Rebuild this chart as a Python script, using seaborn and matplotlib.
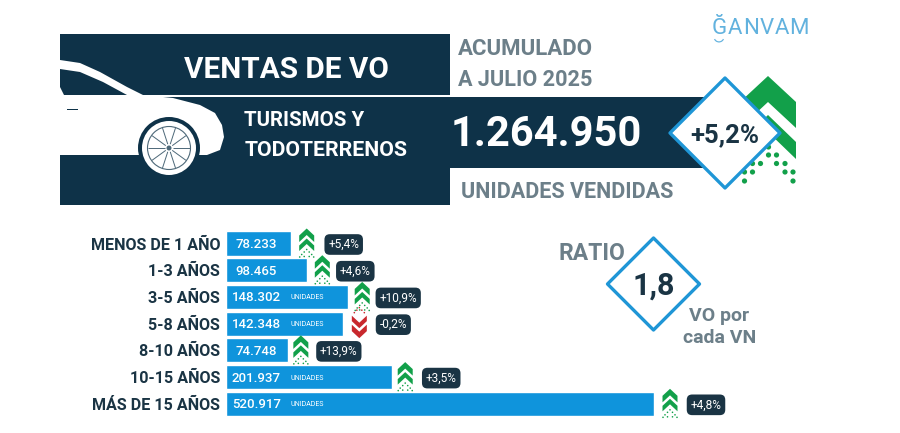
import numpy as np
import pandas as pd
import matplotlib
matplotlib.use("Agg")
import matplotlib.pyplot as plt
from matplotlib.patches import Polygon, Circle, Rectangle, Wedge
import seaborn as sns

categories = ["MENOS DE 1 AÑO", "1-3 AÑOS", "3-5 AÑOS", "5-8 AÑOS", "8-10 AÑOS", "10-15 AÑOS", "MÁS DE 15 AÑOS"]
ventas = [78233, 98465, 148302, 142348, 74748, 201937, 520917]
ventas_txt = ["78.233", "98.465", "148.302", "142.348", "74.748", "201.937", "520.917"]
variacion = [5.4, 4.6, 10.9, -0.2, 13.9, 3.5, 4.8]
variacion_txt = ["+5,4%", "+4,6%", "+10,9%", "-0,2%", "+13,9%", "+3,5%", "+4,8%"]
con_unidades = [False, False, True, True, False, True, True]
chip_offset_px = [53, 48, 50, 50, 51, 49, 52]
chev_offset_px = [16, 15, 14, 16, 13, 13, 16]

total_txt = "1.264.950"
total_var = "+5,2%"
ratio_txt = "1,8"

NAVY = "#0e3248"
BLUE = "#0f94dc"
EDGE = "#1f96d6"
GREY = "#6c7f89"
GREEN = "#12a04a"
RED = "#c8282d"
INK = "#1a3444"
LOGO = "#62b2de"

sns.set_theme(style="white")
plt.rcParams["font.family"] = ["Roboto", "DejaVu Sans"]

W, H = 900, 433
fig = plt.figure(figsize=(W / 100, H / 100), dpi=100, facecolor="white")


def pixel_axes(z):
    a = fig.add_axes([0, 0, 1, 1], zorder=z)
    a.set_xlim(0, W)
    a.set_ylim(H, 0)
    a.axis("off")
    a.patch.set_alpha(0)
    return a


bg = pixel_axes(0)
fg = pixel_axes(5)

# ---------- header panels ----------
bg.add_patch(Rectangle((60, 33.5), 390, 61.5, fc=NAVY, ec="none"))
bg.add_patch(Rectangle((60, 97), 390, 108, fc=NAVY, ec="none"))
bg.add_patch(Rectangle((450, 97), 255, 71, fc=NAVY, ec="none"))

# big green chevrons behind the diamond
def chevron(ax, cx, top, half, arm, thick, color, up=True, z=2):
    if up:
        pts = [(cx, top), (cx + half, top + arm), (cx + half, top + arm + thick),
               (cx, top + thick), (cx - half, top + arm + thick), (cx - half, top + arm)]
    else:
        pts = [(cx, top + arm + thick), (cx + half, top + thick), (cx + half, top),
               (cx, top + arm), (cx - half, top), (cx - half, top + thick)]
    ax.add_patch(Polygon(pts, closed=True, fc=color, ec="none", zorder=z))


chevron(bg, 768, 76, 28, 26, 26, GREEN)
chevron(bg, 768, 115, 28, 27, 17, GREEN)
dot_cols = [744.5, 752.5, 760.5, 768.5, 776.5, 785, 793]
dot_rows = {147: [3], 155: [3, 4], 163.5: [2, 1, 4, 5], 172: [1, 0, 5, 6], 181: [0, 6]}
for yy, idx in dot_rows.items():
    for i in idx:
        bg.add_patch(Circle((dot_cols[i], yy), 2.6, fc=GREEN, ec="none", zorder=2))

# ---------- car ----------
car = [(60, 60), (80, 63), (100, 72), (127, 87), (143, 95), (173, 98), (200, 105), (215, 113),
       (222, 125), (224, 137), (220, 150), (207, 155), (130, 155), (60, 155)]
fg.add_patch(Polygon(car, closed=True, fc="white", ec="none", zorder=1))
fg.add_patch(Polygon([(60, 69), (80, 72), (103, 82), (127, 95), (64, 95), (60, 87)],
                     closed=True, fc=NAVY, ec="none", zorder=2))
fg.add_patch(Rectangle((67, 108.5), 11, 1.6, fc=NAVY, ec="none", zorder=2))
wx, wy = 169, 148
fg.add_patch(Circle((wx, wy), 31, fc=NAVY, ec="none", zorder=2))
fg.add_patch(Rectangle((wx - 40, 155), 80, 30, fc=NAVY, ec="none", zorder=2))
fg.add_patch(Circle((wx, wy), 27, fc="white", ec="none", zorder=3))
fg.add_patch(Circle((wx, wy), 21.5, fc="white", ec="#4d6878", lw=0.8, zorder=3))
for ang in np.arange(0, 360, 36):
    a = np.deg2rad(ang)
    fg.plot([wx + 4 * np.cos(a), wx + 21 * np.cos(a)], [wy + 4 * np.sin(a), wy + 21 * np.sin(a)],
            color="#4d6878", lw=0.7, zorder=4, solid_capstyle="butt")
fg.add_patch(Circle((wx, wy), 2.5, fc="#4d6878", ec="none", zorder=5))

# ---------- diamonds ----------
def diamond(cx, cy, r, lw):
    fg.add_patch(Polygon([(cx, cy - r), (cx + r, cy), (cx, cy + r), (cx - r, cy)], closed=True,
                         fc="white", ec=EDGE, lw=lw, joinstyle="round", zorder=6))


diamond(725, 133, 55, 2.4)
diamond(653.5, 284, 46, 2.4)

# ---------- texts ----------
def T(x, y, s, size, color, ha="center", weight="bold", z=8):
    fg.text(x, y + 2, s, fontsize=size, color=color, ha=ha, va="center", fontweight=weight, zorder=z)


T(286.5, 68, "VENTAS DE VO", 21.4, "white")
T(243.5, 118.5, "TURISMOS Y", 14.8, "white", ha="left")
T(244.5, 148.5, "TODOTERRENOS", 15.3, "white", ha="left")
T(458, 47, "ACUMULADO", 16, GREY, ha="left")
T(458, 78.5, "A JULIO 2025", 15.6, GREY, ha="left")
T(546, 132, total_txt, 30, "white")
T(567.5, 190, "UNIDADES VENDIDAS", 15.5, GREY)
T(724.5, 133, total_var, 18.5, INK)
T(591.5, 251.5, "RATIO", 16.5, GREY)
T(654, 284, ratio_txt, 22, INK)
T(719, 314, "VO por", 14, GREY)
T(720, 336, "cada VN", 14, GREY)

for lx, ch in zip([719, 735, 751, 767, 782, 799], "ĞANVAM"):
    fg.text(lx, 29, ch, fontsize=16, color=LOGO, ha="center", va="center", fontweight="normal", zorder=8)
fg.add_patch(Wedge((719, 37), 5.5, 25, 155, width=1.2, fc=LOGO, ec="none", zorder=8))

# ---------- bars ----------
df = pd.DataFrame({"categoria": categories, "ventas": ventas})
row = 26.72
ax_top = 243.5 - row / 2
ax_left, ax_right = 226.5, 654
ax = fig.add_axes([ax_left / W, 1 - (ax_top + 7 * row) / H, (ax_right - ax_left) / W, 7 * row / H], zorder=3)
sns.barplot(data=df, x="ventas", y="categoria", orient="h", color=BLUE, saturation=1, width=0.9, ax=ax)
ax.set_xlim(0, max(ventas))
ax.set_ylim(6.5, -0.5)
ax.set_xlabel("")
ax.set_ylabel("")
ax.set_xticks([])
ax.patch.set_alpha(0)
sns.despine(ax=ax, left=True, bottom=True)
ax.tick_params(axis="y", length=0, pad=4.5, labelsize=11.6, labelcolor=INK)
for lab in ax.get_yticklabels():
    lab.set_fontweight("bold")

for i, v in enumerate(ventas):
    ax.annotate(ventas_txt[i], xy=(0, i), xytext=(30, -1), textcoords="offset pixels",
                ha="center", va="center", color="white", fontsize=9.5, fontweight="medium")
    if con_unidades[i]:
        ax.annotate("UNIDADES", xy=(0, i), xytext=(81, -1), textcoords="offset pixels",
                    ha="center", va="center", color="white", fontsize=5)
    ax.annotate(variacion_txt[i], xy=(v, i), xytext=(chip_offset_px[i], -1), textcoords="offset pixels",
                ha="center", va="center", color="white", fontsize=8.6, annotation_clip=False,
                bbox=dict(boxstyle="round,pad=0.32,rounding_size=0.45", fc=INK, ec="none"))

    # small trend arrows
    px, py = ax.transData.transform((v, i))
    cx, cy = px + chev_offset_px[i], H - py
    if variacion[i] >= 0:
        top = cy - 15
        chevron(fg, cx, top, 7.5, 7, 6.5, GREEN, z=3)
        chevron(fg, cx, top + 10, 7.5, 7, 5.5, GREEN, z=3)
        for dx, dy in [(0, 21), (-2.5, 23.5), (2.5, 23.5), (-5, 26), (5, 26), (-7, 28.5), (7, 28.5), (-2.5, 28), (2.5, 28)]:
            fg.add_patch(Circle((cx + dx, top + dy), 0.8, fc=GREEN, ec="none", zorder=3))
    else:
        top = cy - 9
        for dx, dy in [(0, -7), (-2.5, -4.5), (2.5, -4.5), (-5, -2), (5, -2)]:
            fg.add_patch(Circle((cx + dx, top + dy), 0.8, fc=RED, ec="none", zorder=3))
        chevron(fg, cx, top + 1, 7.5, 7, 5.5, RED, up=False, z=3)
        chevron(fg, cx, top + 10, 7.5, 7, 6.5, RED, up=False, z=3)

fig.savefig("out.png", dpi=100, facecolor="white")
